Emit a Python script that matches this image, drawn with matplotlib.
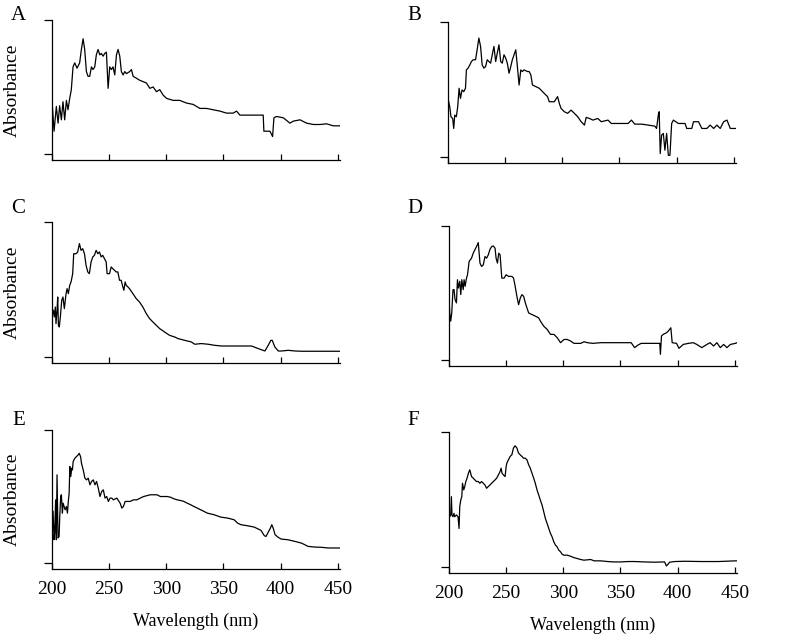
import matplotlib.pyplot as plt

plt.rcParams['font.family'] = ['Liberation Serif', 'DejaVu Serif']

# spectrum A
a_wl = [200, 201.8, 203.8, 205.3, 206.7, 208.2, 209.6, 211.1, 212.6, 214, 215.5, 216.9, 218.4, 219.9,
        221.9, 224.2, 225.7, 227.2, 228.6, 230.1, 231.5, 233, 234.5, 235.9, 237.4, 238.8, 240.3, 241.8,
        243.2, 244.7, 246.1, 247.6, 249.1, 250.5, 252, 253.4, 254.9, 256.4, 257.8, 259.3, 260.7, 262.2,
        263.7, 265.1, 268, 269.5, 271, 273.9, 276.8, 279.7, 282.6, 285.6, 288.5, 291.4, 294.3, 297.2,
        300.2, 306, 311.8, 317.7, 323.5, 329.4, 335.2, 341, 346.9, 352.7, 358.6, 361.5, 364.4, 373.2,
        381.9, 384.8, 385.4, 390.7, 393, 394.2, 396.5, 402.4, 408.2, 411.1, 417, 422.8, 428.7, 434.5,
        440.3, 446.2, 452]
a_abs = [0.40, 0.17, 0.355, 0.23, 0.36, 0.255, 0.39, 0.255, 0.40, 0.33, 0.415, 0.48, 0.65, 0.68,
         0.64, 0.68, 0.78, 0.86, 0.78, 0.615, 0.58, 0.58, 0.65, 0.63, 0.65, 0.74, 0.78, 0.74,
         0.75, 0.73, 0.75, 0.76, 0.49, 0.65, 0.63, 0.65, 0.59, 0.74, 0.78, 0.73, 0.615, 0.59,
         0.615, 0.60, 0.615, 0.63, 0.58, 0.565, 0.55, 0.54, 0.53, 0.49, 0.50, 0.465, 0.48, 0.44,
         0.415, 0.40, 0.40, 0.38, 0.37, 0.34, 0.34, 0.33, 0.32, 0.305, 0.305, 0.32, 0.29, 0.29,
         0.29, 0.29, 0.17, 0.17, 0.13, 0.27, 0.28, 0.27, 0.23, 0.245, 0.255, 0.23, 0.22, 0.22,
         0.225, 0.21, 0.21]

# spectrum B
b_wl = [200, 201.5, 202.6, 204.1, 205, 205.9, 207.3, 208.5, 209.7, 210.9, 212.3, 213.8, 215.3, 216.1,
        217.6, 219.1, 220.5, 222, 224.1, 225.5, 227, 228.5, 229.9, 231.4, 232.9, 234.3, 235.8, 237.3,
        238.7, 240.2, 241.7, 243.1, 244.6, 246.1, 247.5, 249, 250.5, 251.9, 253.4, 254.9, 256.3, 257.8,
        259.3, 260.7, 262.2, 263.7, 265.1, 266.6, 269.5, 271, 272.5, 273.9, 276.9, 279.8, 281.3, 284.2,
        287.1, 288.6, 293, 295.9, 297.4, 298.9, 301.8, 304.7, 307.7, 310.6, 313.5, 316.5, 319.4, 320.9,
        323.8, 326.8, 331.1, 334.1, 340, 342.9, 348.8, 357.6, 360.5, 363.4, 369.3, 375.2, 381, 382.5,
        384, 384.8, 385.7, 386.9, 388.4, 389.8, 391.3, 392.8, 394.2, 395.7, 397.2, 401.6, 407.4, 408.9,
        413.3, 414.8, 419.2, 422.1, 426.5, 429.4, 432.4, 435.3, 438.2, 441.2, 444.1, 447, 452]
b_abs = [0.434, 0.372, 0.298, 0.285, 0.211, 0.31, 0.298, 0.372, 0.509, 0.434, 0.496, 0.484, 0.509, 0.645,
         0.658, 0.682, 0.707, 0.72, 0.72, 0.794, 0.881, 0.819, 0.682, 0.658, 0.67, 0.72, 0.707, 0.695,
         0.757, 0.819, 0.707, 0.769, 0.831, 0.707, 0.695, 0.757, 0.732, 0.695, 0.62, 0.67, 0.72, 0.757,
         0.794, 0.67, 0.533, 0.645, 0.633, 0.645, 0.633, 0.633, 0.608, 0.533, 0.521, 0.509, 0.496, 0.471,
         0.447, 0.409, 0.409, 0.447, 0.397, 0.36, 0.335, 0.323, 0.347, 0.323, 0.298, 0.261, 0.236, 0.293,
         0.285, 0.273, 0.285, 0.261, 0.273, 0.248, 0.248, 0.248, 0.273, 0.243, 0.243, 0.236, 0.228, 0.211,
         0.31, 0.335, 0.025, 0.161, 0.174, 0.05, 0.174, 0.012, 0.012, 0.248, 0.273, 0.248, 0.248, 0.211,
         0.211, 0.261, 0.261, 0.211, 0.211, 0.236, 0.211, 0.236, 0.211, 0.261, 0.273, 0.211, 0.211]

# spectrum C
c_wl = [200, 201.2, 202, 202.9, 203.5, 204.4, 205, 205.6, 206.4, 207.3, 208.5, 209.6, 210.8, 212.3,
        213.2, 214.3, 215.5, 216.7, 218.1, 219, 221.1, 222.5, 224, 225.4, 226.9, 228.4, 229.8, 231.3,
        232.7, 234.2, 235.7, 237.1, 238.6, 240.1, 241.5, 243, 244.4, 245.9, 247.4, 248.2, 250.3, 251.8,
        253.2, 254.7, 256.1, 257.6, 259.1, 260.5, 262, 262.9, 264, 264.9, 266.4, 267.8, 270.8, 273.7,
        276.6, 279.5, 282.5, 285.4, 288.3, 291.2, 294.2, 298.5, 302.9, 307.3, 310.2, 316.1, 321.9, 324.9,
        330.7, 336.6, 342.4, 348.2, 359.9, 374.6, 380.4, 386.3, 389.2, 391.5, 392.7, 395, 398, 400.9,
        406.7, 412.6, 418.4, 433, 447.7, 452]
c_abs = [0.296, 0.346, 0.296, 0.37, 0.247, 0.346, 0.444, 0.235, 0.222, 0.296, 0.42, 0.444, 0.358, 0.469,
         0.506, 0.469, 0.531, 0.556, 0.617, 0.765, 0.765, 0.778, 0.84, 0.79, 0.802, 0.765, 0.679, 0.63,
         0.617, 0.704, 0.741, 0.753, 0.79, 0.765, 0.778, 0.741, 0.753, 0.728, 0.704, 0.617, 0.617, 0.667,
         0.654, 0.642, 0.63, 0.63, 0.568, 0.568, 0.519, 0.494, 0.556, 0.531, 0.519, 0.506, 0.469, 0.432,
         0.407, 0.37, 0.321, 0.284, 0.259, 0.235, 0.21, 0.185, 0.16, 0.148, 0.136, 0.123, 0.111, 0.094,
         0.099, 0.094, 0.086, 0.081, 0.081, 0.081, 0.062, 0.044, 0.086, 0.123, 0.123, 0.074, 0.044, 0.044,
         0.049, 0.044, 0.042, 0.042, 0.042, 0.042]

# spectrum D
d_wl = [200, 200.6, 201.5, 202.4, 203.5, 204.4, 205.3, 206.5, 207.4, 208.2, 209.4, 210.3, 211.2, 212.4,
        213.2, 214.1, 215.3, 216.2, 217.6, 219.7, 221.2, 222.6, 224.1, 225.6, 227.1, 228.5, 230, 231.5,
        232.9, 234.4, 235.9, 237.4, 238.8, 240.3, 241.2, 242.4, 243.5, 244.7, 246.2, 248.2, 250, 252.1,
        255, 256.5, 257.9, 259.4, 260.9, 262.4, 263.8, 265.3, 266.8, 268.2, 269.7, 272.6, 275.6, 278.5,
        280, 282.9, 285.9, 288.8, 291.8, 294.7, 297.6, 300.6, 303.5, 306.5, 309.4, 315.3, 318.2, 321.2,
        325.6, 332.9, 347.6, 359.4, 362.4, 365.3, 368.2, 377.1, 384.4, 385, 385.9, 387.4, 390.3, 391.8,
        394.1, 395.3, 399.1, 401.2, 405, 409.4, 413.8, 416.8, 421.2, 425.6, 428.5, 431.5, 434.4, 437.4,
        440.3, 443.2, 446.2, 450.6, 452]
d_abs = [0.475, 0.351, 0.29, 0.351, 0.525, 0.525, 0.45, 0.426, 0.599, 0.537, 0.587, 0.488, 0.599, 0.525,
         0.599, 0.55, 0.611, 0.636, 0.735, 0.76, 0.797, 0.822, 0.847, 0.876, 0.723, 0.698, 0.71, 0.772,
         0.76, 0.785, 0.827, 0.847, 0.851, 0.834, 0.76, 0.723, 0.797, 0.785, 0.611, 0.611, 0.636, 0.624,
         0.624, 0.611, 0.55, 0.475, 0.413, 0.463, 0.488, 0.475, 0.426, 0.389, 0.351, 0.339, 0.327, 0.314,
         0.29, 0.252, 0.228, 0.191, 0.191, 0.166, 0.129, 0.153, 0.153, 0.141, 0.124, 0.124, 0.136, 0.129,
         0.124, 0.129, 0.129, 0.129, 0.092, 0.111, 0.124, 0.124, 0.124, 0.042, 0.178, 0.191, 0.203, 0.215,
         0.24, 0.129, 0.124, 0.087, 0.116, 0.124, 0.129, 0.116, 0.092, 0.116, 0.129, 0.104, 0.129, 0.092,
         0.116, 0.092, 0.116, 0.124, 0.129]

# spectrum E
e_wl = [200, 200.9, 201.8, 202.3, 203.2, 203.8, 204.4, 205.3, 206.2, 206.8, 207.6, 208.2, 209.1, 209.7,
        210.6, 211.5, 212.6, 213.5, 214.4, 215, 215.6, 216.4, 217.3, 217.9, 218.5, 220, 221.4, 222.9,
        223.8, 225, 225.8, 227.3, 228.8, 230.2, 231.7, 233.2, 234.6, 236.1, 237.6, 239, 240.5, 242,
        243.5, 244.9, 246.4, 247.9, 249.3, 250.8, 252.3, 253.7, 256.7, 259.6, 261.1, 262.5, 264, 268.4,
        271.3, 274.3, 277.2, 280.2, 286, 291.9, 294.8, 297.8, 300.7, 303.6, 306.6, 309.5, 312.4, 315.4,
        318.3, 321.3, 324.2, 327.1, 330.1, 333, 335.9, 341.8, 347.7, 353.6, 359.4, 362.4, 365.3, 371.2,
        377, 382.9, 385.8, 387.3, 388.8, 391.1, 392.3, 393.5, 395.2, 397.6, 400.5, 406.4, 412.3, 418.2,
        421.1, 424, 429.9, 435.8, 441.6, 447.5, 452]
e_abs = [0.4, 0.388, 0.175, 0.225, 0.475, 0.175, 0.663, 0.188, 0.2, 0.35, 0.5, 0.513, 0.375, 0.45,
         0.425, 0.4, 0.425, 0.375, 0.475, 0.525, 0.725, 0.65, 0.713, 0.7, 0.763, 0.788, 0.8, 0.813,
         0.825, 0.8, 0.75, 0.7, 0.638, 0.625, 0.638, 0.588, 0.613, 0.625, 0.588, 0.613, 0.563, 0.5,
         0.538, 0.55, 0.488, 0.5, 0.463, 0.488, 0.488, 0.475, 0.488, 0.45, 0.413, 0.425, 0.463, 0.463,
         0.475, 0.475, 0.488, 0.5, 0.513, 0.513, 0.5, 0.5, 0.5, 0.495, 0.483, 0.475, 0.47, 0.463,
         0.45, 0.438, 0.425, 0.413, 0.4, 0.388, 0.375, 0.363, 0.345, 0.338, 0.325, 0.3, 0.288, 0.28,
         0.27, 0.245, 0.205, 0.2, 0.225, 0.263, 0.288, 0.263, 0.213, 0.195, 0.18, 0.175, 0.163, 0.15,
         0.138, 0.125, 0.12, 0.118, 0.113, 0.113, 0.113]

# spectrum F
f_wl = [200.6, 201.5, 202.1, 202.6, 203.5, 204.4, 205, 206.5, 207.9, 208.8, 209.4, 210.3, 211.2, 211.8,
        212.9, 213.8, 214.7, 215.3, 216.2, 217, 218.2, 219.7, 221.2, 222.6, 224.1, 225.6, 227, 228.5,
        230, 231.4, 232.9, 234.4, 235.9, 237.3, 238.8, 240.3, 241.7, 243.2, 244.7, 245.6, 246.4, 247.6,
        249.1, 250, 250.6, 252, 253.5, 255, 256.4, 257.9, 259.4, 260.8, 262.3, 263.8, 265.2, 266.7,
        268.2, 269.7, 271.1, 272.6, 274.1, 275.5, 277, 278.5, 279.9, 281.4, 282.9, 284.3, 285.8, 287.3,
        288.8, 290.2, 291.7, 293.2, 294.6, 296.1, 297.6, 299, 300.5, 303.5, 306.4, 309.3, 312.3, 315.2,
        318.1, 324, 327, 332.8, 338.7, 344.6, 350.5, 356.4, 362.2, 371.1, 379.9, 388.7, 390.2, 391.6,
        393.1, 397.5, 406.3, 421, 435.7, 450.4, 452]
f_abs = [0.372, 0.385, 0.521, 0.385, 0.372, 0.397, 0.372, 0.385, 0.372, 0.285, 0.447, 0.496, 0.521, 0.62,
         0.571, 0.596, 0.633, 0.645, 0.67, 0.695, 0.72, 0.67, 0.658, 0.645, 0.633, 0.633, 0.62, 0.633,
         0.62, 0.608, 0.583, 0.596, 0.608, 0.62, 0.633, 0.645, 0.658, 0.682, 0.707, 0.732, 0.695, 0.682,
         0.67, 0.744, 0.769, 0.794, 0.819, 0.831, 0.881, 0.898, 0.881, 0.844, 0.831, 0.819, 0.806, 0.806,
         0.794, 0.757, 0.732, 0.695, 0.658, 0.62, 0.571, 0.533, 0.496, 0.459, 0.409, 0.36, 0.323, 0.285,
         0.248, 0.223, 0.186, 0.161, 0.149, 0.124, 0.112, 0.094, 0.087, 0.087, 0.079, 0.069, 0.062, 0.055,
         0.05, 0.055, 0.045, 0.045, 0.04, 0.037, 0.037, 0.04, 0.04, 0.037, 0.035, 0.037, 0.007, 0.02,
         0.035, 0.04, 0.042, 0.04, 0.04, 0.045, 0.045]

panel_labels = ['A', 'B', 'C', 'D', 'E', 'F']
xticks = [200, 250, 300, 350, 400, 450]

W, H = 800, 634
fig = plt.figure(figsize=(8, 6.34), dpi=100)

# axes boxes in pixels: left, top, right, bottom
boxes = [(52, 20, 340, 160), (448, 22, 736, 163),
         (52, 222, 340, 363), (449, 226, 737, 366),
         (52, 430, 340, 569), (449, 432, 737, 573)]
series = [(a_wl, a_abs), (b_wl, b_abs), (c_wl, c_abs),
          (d_wl, d_abs), (e_wl, e_abs), (f_wl, f_abs)]
letter_pos = [(11, 20), (407, 20), (11, 213), (407, 213), (12, 425), (407, 425)]

for i, ((l, t, r, b), (wl, ab)) in enumerate(zip(boxes, series)):
    ax = fig.add_axes([l / W, 1 - b / H, (r - l) / W, (b - t) / H])
    ax.plot(wl, ab, color='black', lw=0.9)
    ax.set_xlim(200, 452)
    ax.set_ylim(-0.045, 1.0)
    ax.spines['top'].set_visible(False)
    ax.spines['right'].set_visible(False)
    for s in ['left', 'bottom']:
        ax.spines[s].set_linewidth(0.9)
    ax.set_yticks([0, 1])
    ax.set_yticklabels([])
    ax.tick_params(axis='y', direction='out', length=6, width=0.9)
    ax.set_xticks(xticks)
    ax.tick_params(axis='x', direction='in', length=4, width=0.9, pad=9, labelsize=14)
    if i >= 4:
        ax.set_xticklabels([str(v) for v in xticks])
        ax.set_xlabel('Wavelength (nm)', fontsize=13, labelpad=10)
    else:
        ax.set_xticklabels([])
    if i % 2 == 0:
        fig.text(12 / W, 1 - ((t + b) / 2) / H, 'Absorbance', rotation=90,
                 ha='center', va='center', fontsize=14)
    lx, ly = letter_pos[i]
    fig.text(lx / W, 1 - ly / H, panel_labels[i], ha='left', va='baseline', fontsize=15)

fig.savefig('out.png', dpi=100)
